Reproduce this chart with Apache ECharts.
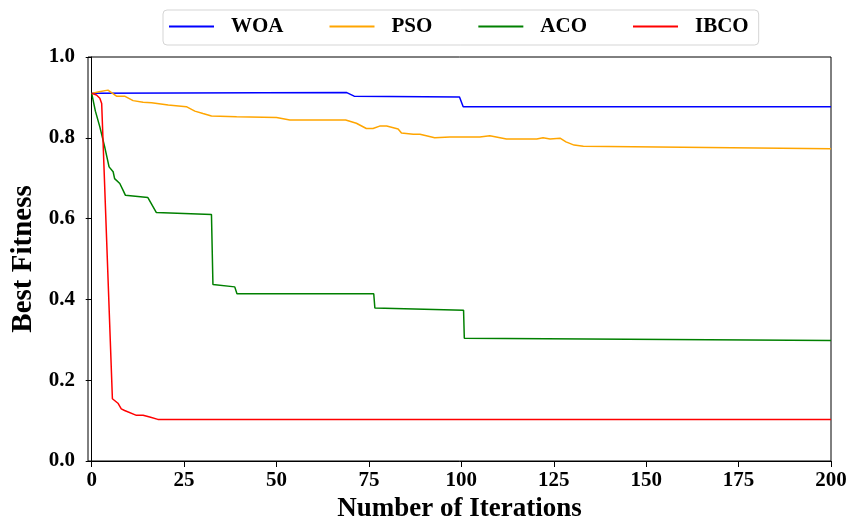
<!DOCTYPE html>
<html><head><meta charset="utf-8">
<script src="https://cdn.jsdelivr.net/npm/echarts@6/dist/echarts.min.js"></script>
<style>html,body{margin:0;padding:0;background:#fff}#c{width:850px;height:520px}</style>
</head><body><div id="c"></div>
<script>
const seriesNames = ['WOA', 'PSO', 'ACO', 'IBCO'];
const seriesColors = ['#0000ff', '#ffa500', '#008000', '#ff0000'];

const woaIter = [0, 69, 71, 99.5, 100.5, 200];
const woaFit  = [0.910, 0.912, 0.903, 0.901, 0.877, 0.877];

const psoIter = [0, 2, 4.4, 6.7, 8.9, 11.2, 13.9, 16.2, 20.7, 25.6, 27.9, 30.1, 32.4, 39.2, 50, 53.6, 68.7, 71.6, 74.3, 76.1, 77.9, 79.8, 82.9, 83.8, 87, 88.8, 92.8, 96.9, 105, 107.7, 112.2, 120.4, 122.1, 124, 126.7, 128.3, 130.5, 133, 200];
const psoFit  = [0.910, 0.914, 0.918, 0.903, 0.903, 0.892, 0.888, 0.887, 0.881, 0.877, 0.866, 0.860, 0.854, 0.852, 0.850, 0.844, 0.844, 0.836, 0.823, 0.823, 0.829, 0.829, 0.822, 0.812, 0.809, 0.809, 0.800, 0.802, 0.802, 0.805, 0.797, 0.797, 0.800, 0.797, 0.799, 0.790, 0.782, 0.779, 0.773];

const acoIter = [0, 1, 2.2, 3.5, 4.7, 5.8, 6.2, 7.6, 8.5, 9.1, 15.2, 17.5, 32.4, 32.8, 38.7, 39.3, 76.3, 76.6, 100.6, 100.8, 200];
const acoFit  = [0.910, 0.866, 0.827, 0.778, 0.728, 0.716, 0.699, 0.687, 0.670, 0.658, 0.652, 0.615, 0.610, 0.437, 0.431, 0.414, 0.414, 0.379, 0.373, 0.304, 0.298];

const ibcoIter = [0, 1.3, 2.2, 2.7, 5.6, 7.1, 8, 8.9, 12.1, 13.9, 15.7, 17.9, 200];
const ibcoFit  = [0.910, 0.906, 0.898, 0.885, 0.154, 0.143, 0.129, 0.125, 0.113, 0.113, 0.109, 0.103, 0.103];

const xTicks = [0, 25, 50, 75, 100, 125, 150, 175, 200];
const yTicks = [0, 0.2, 0.4, 0.6, 0.8, 1.0];

const iters = [woaIter, psoIter, acoIter, ibcoIter];
const fits = [woaFit, psoFit, acoFit, ibcoFit];
const FONT = '"Liberation Serif", "Times New Roman", serif';

const chart = echarts.init(document.getElementById('c'), null, {renderer: 'canvas'});
chart.setOption({
  animation: false,
  backgroundColor: '#fff',
  grid: {left: 88, right: 19, top: 57, bottom: 59, containLabel: false, outerBoundsMode: 'none',
    show: true, borderColor: '#000', borderWidth: 1, backgroundColor: 'transparent'},
  legend: {
    data: seriesNames,
    left: 163, top: 10,
    padding: [6, 10, 8, 6],
    itemGap: 46,
    itemWidth: 45, itemHeight: 2,
    icon: 'rect',
    borderColor: '#d5d5d5', borderWidth: 1, borderRadius: 4,
    textStyle: {fontFamily: FONT, fontWeight: 'bold', fontSize: 21, color: '#000', padding: [0, 0, 0, 12]}
  },
  xAxis: {
    type: 'value', min: -1, max: 200,
    name: 'Number of Iterations', nameLocation: 'middle', nameGap: 33,
    nameTextStyle: {fontFamily: FONT, fontWeight: 'bold', fontSize: 27, color: '#000'},
    axisLine: {show: true, onZero: false, lineStyle: {color: '#000', width: 1}},
    axisTick: {show: true, length: 6, customValues: xTicks, lineStyle: {color: '#000'}},
    axisLabel: {customValues: xTicks, margin: 9, fontFamily: FONT, fontWeight: 'bold', fontSize: 21, color: '#000'},
    splitLine: {show: false}
  },
  yAxis: {
    type: 'value', min: 0, max: 1, interval: 0.2,
    name: 'Best Fitness', nameLocation: 'middle', nameGap: 50,
    nameTextStyle: {fontFamily: FONT, fontWeight: 'bold', fontSize: 29, color: '#000'},
    axisLine: {show: true, lineStyle: {color: '#000', width: 1}},
    axisTick: {show: true, length: 6, lineStyle: {color: '#000'}},
    axisLabel: {margin: 13, fontFamily: FONT, fontWeight: 'bold', fontSize: 21, color: '#000',
      formatter: v => yTicks.some(t => Math.abs(t - v) < 1e-9) ? v.toFixed(1) : ''},
    splitLine: {show: false}
  },
  series: seriesNames.map((n, i) => ({
    name: n, type: 'line',
    data: iters[i].map((x, k) => [x, fits[i][k]]),
    symbol: 'none', showSymbol: false,
    lineStyle: {color: seriesColors[i], width: 1.5},
    itemStyle: {color: seriesColors[i]}
  }))
});
</script></body></html>
